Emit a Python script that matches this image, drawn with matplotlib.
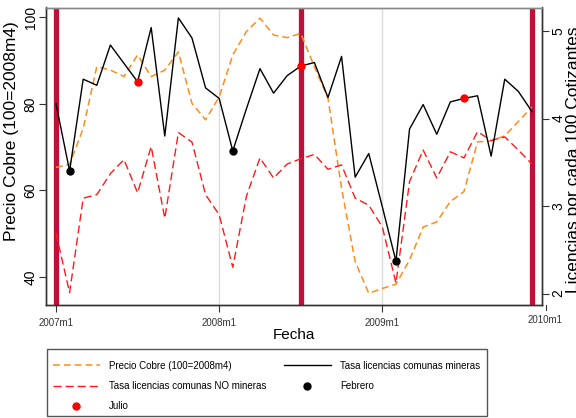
import numpy as np
import matplotlib
matplotlib.use("Agg")
import matplotlib.pyplot as plt
from matplotlib.lines import Line2D
from matplotlib.patches import Rectangle

plt.rcParams['font.family'] = ['Liberation Sans', 'DejaVu Sans']

# months since 2007m1
meses = np.arange(36)
tick_pos = [0, 12, 24]
tick_labels = ["2007m1", "2008m1", "2009m1"]

# Precio Cobre (100=2008m4), left axis
cobre = [65.3, 66.0, 74.3, 88.6, 87.8, 86.3, 91.3, 86.3, 87.8, 92.0, 80.1, 76.3,
         81.6, 91.3, 96.7, 99.8, 95.9, 95.3, 96.3, 88.6, 81.3, 60.5, 43.5, 36.2,
         37.3, 38.3, 43.9, 51.5, 52.7, 57.4, 59.7, 71.2, 71.4, 72.6, 75.9, 79.3]

# licencias por cada 100 cotizantes, right axis
mineras = [4.17, 3.40, 4.45, 4.38, 4.84, 4.63, 4.42, 5.04, 3.80, 5.15, 4.92, 4.35,
           4.23, 3.63, 4.11, 4.57, 4.29, 4.49, 4.60, 4.64, 4.24, 4.71, 3.33, 3.60,
           2.99, 2.37, 3.88, 4.16, 3.82, 4.19, 4.23, 4.26, 3.57, 4.45, 4.31, 4.08]
no_mineras = [2.69, 2.01, 3.09, 3.13, 3.37, 3.53, 3.15, 3.68, 2.86, 3.84, 3.73, 3.13,
              2.90, 2.30, 3.11, 3.55, 3.32, 3.48, 3.54, 3.59, 3.42, 3.47, 3.09, 3.01,
              2.76, 2.12, 3.28, 3.64, 3.32, 3.62, 3.55, 3.85, 3.75, 3.79, 3.64, 3.48]

febrero = [1, 13, 25]
julio = [6, 18, 30]
barras = [0, 18, 35]

fig = plt.figure(figsize=(5.76, 4.18), dpi=100)
ax = fig.add_axes([46 / 576, 1 - 305 / 418, 496 / 576, 297.5 / 418])
ax2 = ax.twinx()

# grid and red bars
for m in [12, 24]:
    ax.axvline(m, color='#dcdcdc', lw=1.0, zorder=0)
for m in barras:
    ax.axvline(m, color='#c0103a', lw=3.8, zorder=1)

ax.plot(meses, cobre, color='#ff8c1a', lw=1.1, dashes=(4.5, 2.6), zorder=2)
ax2.plot(meses, no_mineras, color='#ff1a1a', lw=1.0, dashes=(5.8, 2.9), zorder=2)
ax2.plot(meses, mineras, color='black', lw=1.0, zorder=3)
ax2.plot(febrero, [mineras[i] for i in febrero], 'o', color='black', ms=5, zorder=4)
ax2.plot(julio, [mineras[i] for i in julio], 'o', color='red', ms=5, zorder=4)

ax.set_xlim(-0.735, 35.74)
ax.set_ylim(33.48, 102.27)
ax2.set_ylim(1.869, 5.269)

ax.set_xticks(tick_pos)
ax.set_xticklabels(tick_labels, fontsize=7, color='#333333')
ax.set_yticks([40, 60, 80, 100])
ax.tick_params(axis='y', labelsize=10, length=5, width=0.8, color='#333333', pad=1)
ax.tick_params(axis='x', length=5, width=0.8, color='#333333', pad=4)
for t in ax.get_yticklabels():
    t.set_rotation(90)
    t.set_va('center')
ax2.set_yticks([2, 3, 4, 5])
ax2.tick_params(axis='y', labelsize=10, length=5, width=0.8, color='#333333', pad=2)
for t in ax2.get_yticklabels():
    t.set_rotation(90)
    t.set_va('center')

# 2010m1 tick lies past the right edge
ax.plot([36, 36], [0, -0.017], color='#333333', lw=0.8, clip_on=False,
        transform=ax.get_xaxis_transform())
ax.text(36, -0.035, "2010m1", fontsize=7, color='#333333', ha='center', va='top',
        transform=ax.get_xaxis_transform())

for a in (ax, ax2):
    a.spines['top'].set_color('#888888')
    a.spines['left'].set_color('#333333')
    a.spines['right'].set_color('#333333')
    a.spines['bottom'].set_color('#333333')
    for s in a.spines.values():
        s.set_linewidth(1.0)

ax.set_xlabel("Fecha", fontsize=11, labelpad=0.5)
fig.text(4 / 576, 1 - 131 / 418, "Precio Cobre (100=2008m4)", rotation=90,
         ha='left', va='center', fontsize=12.5)
fig.text(566 / 576, 1 - 160 / 418, "Licencias por cada 100 Cotizantes", rotation=90,
         ha='left', va='center', fontsize=12.5)

# legend frame drawn by hand
fig.patches.append(Rectangle((47 / 576, 1 - 416 / 418), 440 / 576, 67 / 418,
                             transform=fig.transFigure, fill=False,
                             edgecolor='#555555', lw=1.0))
handles = [
    Line2D([], [], color='#ff8c1a', lw=1.1, dashes=(4.5, 2.6)),
    Line2D([], [], color='#ff1a1a', lw=1.0, dashes=(5.8, 2.9)),
    Line2D([], [], marker='o', color='red', ls='none', ms=5),
    Line2D([], [], color='black', lw=1.0),
    Line2D([], [], marker='o', color='black', ls='none', ms=5),
]
labels = ["Precio Cobre (100=2008m4)", "Tasa licencias comunas NO mineras", "Julio",
          "Tasa licencias comunas mineras", "Febrero"]
fig.legend(handles, labels, loc='upper left', bbox_to_anchor=(47 / 576, 1 - 355 / 418),
           ncol=2, fontsize=7, frameon=False, handlelength=4.8,
           handletextpad=1.0, columnspacing=1.8, labelspacing=1.05, borderpad=0.6,
           borderaxespad=0, numpoints=1)

fig.savefig("out.png", dpi=100)
